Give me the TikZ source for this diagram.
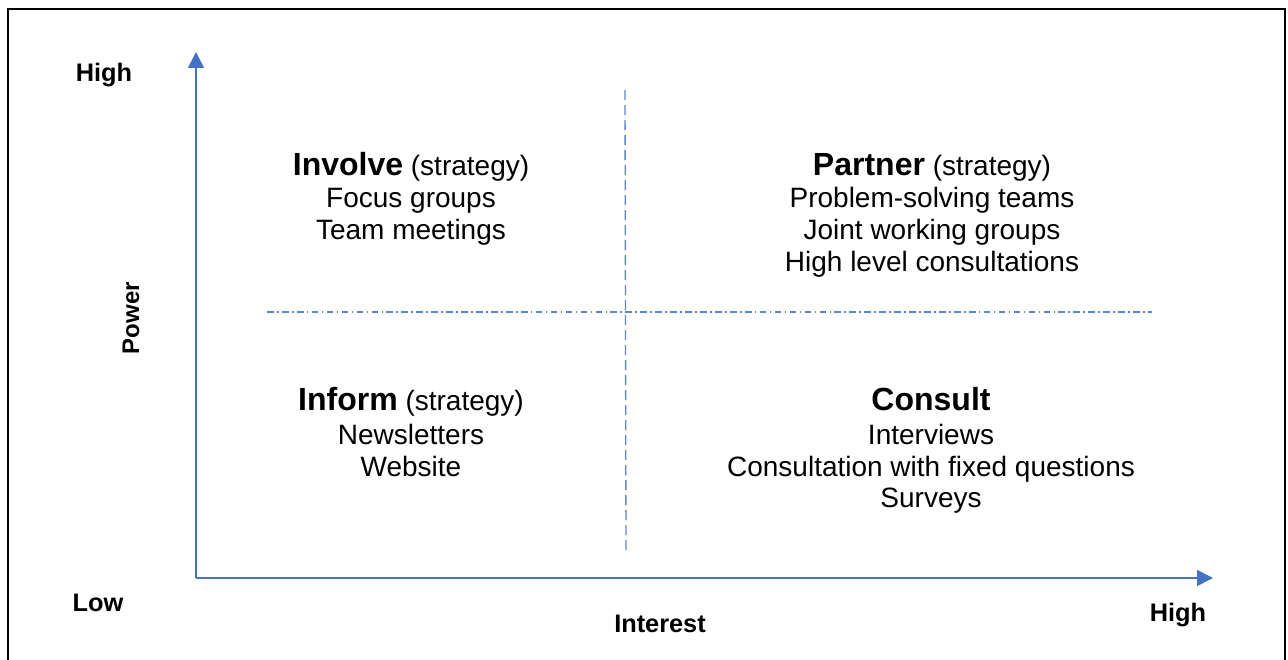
\documentclass[tikz,border=0pt]{standalone}
\usepackage{fontspec}
\setmainfont{Liberation Sans}
\usetikzlibrary{arrows.meta}
\definecolor{axisblue}{HTML}{4472C4}
\definecolor{gridblue}{HTML}{5B87D2}
\begin{document}
\begin{tikzpicture}[x=0.75pt,y=-0.75pt,
  axis/.style={draw=axisblue,line width=1.1pt,-{Triangle[width=12pt,length=12pt]}},
  vdash/.style={draw=gridblue,line width=1pt,dash pattern=on 7.5pt off 3.75pt},
  hdash/.style={draw=gridblue,line width=0.9pt,dash pattern=on 5pt off 2.5pt on 1.2pt off 2.5pt},
  txt/.style={anchor=base,inner sep=0pt,font=\fontsize{21}{25}\selectfont},
  lbl/.style={anchor=base,inner sep=0pt,font=\fontsize{19}{23}\selectfont\bfseries}]
\useasboundingbox (0,0) rectangle (1288,660);
\fill[white] (0,0) rectangle (1288,660);
% frame
\draw[line width=1.5pt] (7.5,680) -- (7.5,9.5) -- (1285,9.5) -- (1285,680);
% axes
\coordinate (O) at (196,578);
\coordinate (Ytop) at (196,52);
\coordinate (Xend) at (1213,578);
\draw[axis] (O) -- (Ytop);
\draw[axis] (O) -- (Xend);
% quadrant dividers
\coordinate (v1) at (625,90);
\coordinate (v2) at (626,555);
\coordinate (h1) at (267,312);
\coordinate (h2) at (1152,312);
\draw[vdash] (v1) -- (v2);
\draw[hdash] (h1) -- (h2);
% axis labels
\node[lbl] (hi1) at (104,82) {High};
\node[lbl] (low) at (98,611) {Low};
\node[lbl] (intr) at (660,632) {Interest};
\node[lbl] (hi2) at (1178,621) {High};
\node[inner sep=0pt,rotate=90,font=\fontsize{18}{22}\selectfont\bfseries] (pow) at (131,318) {Power};
% Involve
\node[txt] (inv1) at (411,175) {{\fontsize{24}{28}\selectfont\bfseries Involve} (strategy)};
\node[txt] (inv2) at (411,207) {Focus groups};
\node[txt] (inv3) at (411,239) {Team meetings};
% Partner
\node[txt] (par1) at (932,175) {{\fontsize{24}{28}\selectfont\bfseries Partner} (strategy)};
\node[txt] (par2) at (932,207) {Problem-solving teams};
\node[txt] (par3) at (932,239) {Joint working groups};
\node[txt] (par4) at (932,271) {High level consultations};
% Inform
\node[txt] (inf1) at (411,410) {{\fontsize{24}{28}\selectfont\bfseries Inform} (strategy)};
\node[txt] (inf2) at (411,444) {Newsletters};
\node[txt] (inf3) at (411,476) {Website};
% Consult
\node[txt] (con1) at (931,410) {{\fontsize{24}{28}\selectfont\bfseries Consult}};
\node[txt] (con2) at (931,444) {Interviews};
\node[txt] (con3) at (931,476) {Consultation with fixed questions};
\node[txt] (con4) at (931,507) {Surveys};
\end{tikzpicture}
\end{document}
